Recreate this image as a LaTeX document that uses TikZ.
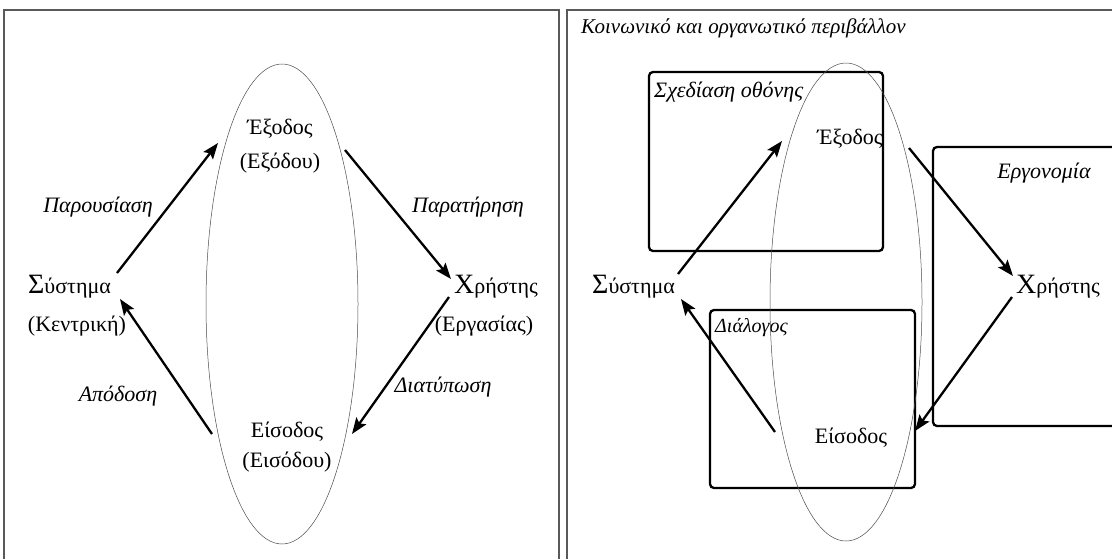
\documentclass[tikz,border=0pt]{standalone}
\usepackage{fontspec}
\setmainfont{Liberation Serif}
\usetikzlibrary{arrows.meta}
\newcommand{\bigini}[1]{{\fontsize{28}{28}\selectfont #1}}

\begin{document}
\begin{tikzpicture}[x=1pt,y=-1pt,
  frame/.style={draw=black!65, line width=1.2pt},
  oval/.style={draw=black!70, line width=0.5pt},
  flow/.style={line width=2.3pt, -{Stealth[length=16pt,width=12pt,inset=3pt]}},
  area/.style={draw, line width=2.3pt, rounded corners=4pt},
  lbl/.style={inner sep=0pt, font=\fontsize{22}{26}\selectfont},
  act/.style={inner sep=0pt, font=\fontsize{22}{26}\selectfont\itshape},
  actor/.style={inner sep=0pt, anchor=base west, font=\fontsize{22}{26}\selectfont},
]
\useasboundingbox (0,0) rectangle (1112,558);

% ---------- left panel: the basic interaction cycle ----------
\draw[frame] (4,560) -- (4,10) -- (559,10) -- (559,560);
\draw[oval] (282,304) ellipse [x radius=76pt, y radius=240pt];

\node[lbl] (outA)  at (280,129) {Έξοδος};
\node[lbl] (outAs) at (280,163) {(Εξόδου)};
\node[lbl] (inA)   at (287,432) {Είσοδος};
\node[lbl] (inAs)  at (287,462) {(Εισόδου)};
\node[actor] (sysA) at (28,293) {\bigini{Σ}ύστημα};
\node[lbl] (sysAs) at (77,326) {(Κεντρική)};
\node[actor] (usrA) at (454,293) {\bigini{Χ}ρήστης};
\node[lbl] (usrAs) at (484,326) {(Εργασίας)};

\node[act] (presA) at (98,207)  {Παρουσίαση};
\node[act] (obsA)  at (468,207) {Παρατήρηση};
\node[act] (artA)  at (443,387) {Διατύπωση};
\node[act] (perfA) at (118,396) {Απόδοση};

\coordinate (sysAup) at (117,273);
\coordinate (sysAdn) at (120,299);
\coordinate (outAin) at (218,143);
\coordinate (outAex) at (345,150);
\coordinate (usrAup) at (451,279);
\coordinate (usrAdn) at (449,297);
\coordinate (inAin)  at (352,434);
\coordinate (inAex)  at (212,434);

\draw[flow] (sysAup) -- (outAin);
\draw[flow] (outAex) -- (usrAup);
\draw[flow] (usrAdn) -- (inAin);
\draw[flow] (inAex) -- (sysAdn);

% ---------- right panel: the cycle in its context ----------
\draw[frame] (567,560) -- (567,10) -- (1114,10);
\node[act, anchor=west, font=\fontsize{21}{25}\selectfont\itshape] (env) at (581,28) {Κοινωνικό και οργανωτικό περιβάλλον};

\draw[area] (649,72) rectangle (883,251);
\node[act, anchor=west] (scr) at (654,92) {Σχεδίαση οθόνης};
\draw[area] (1116,147) -- (933,147) -- (933,426) -- (1116,426);
\node[act] (erg) at (1044,173) {Εργονομία};
\draw[area] (710,310) rectangle (915,488);
\node[act, anchor=west, font=\fontsize{20}{24}\selectfont\itshape] (dlg) at (715,328) {Διάλογος};

\draw[oval] (846,302) ellipse [x radius=76pt, y radius=239pt];

\node[lbl] (outB) at (850,139) {Έξοδος};
\node[lbl] (inB)  at (851,438) {Είσοδος};
\node[actor] (sysB) at (592,293) {\bigini{Σ}ύστημα};
\node[actor] (usrB) at (1016,293) {\bigini{Χ}ρήστης};

\coordinate (sysBup) at (678,274);
\coordinate (sysBdn) at (681,299);
\coordinate (outBin) at (782,141);
\coordinate (outBex) at (909,148);
\coordinate (usrBup) at (1013,276);
\coordinate (usrBdn) at (1012,297);
\coordinate (inBin)  at (915,431);
\coordinate (inBex)  at (775,432);

\draw[flow] (sysBup) -- (outBin);
\draw[flow] (outBex) -- (usrBup);
\draw[flow] (usrBdn) -- (inBin);
\draw[flow] (inBex) -- (sysBdn);
\end{tikzpicture}
\end{document}
